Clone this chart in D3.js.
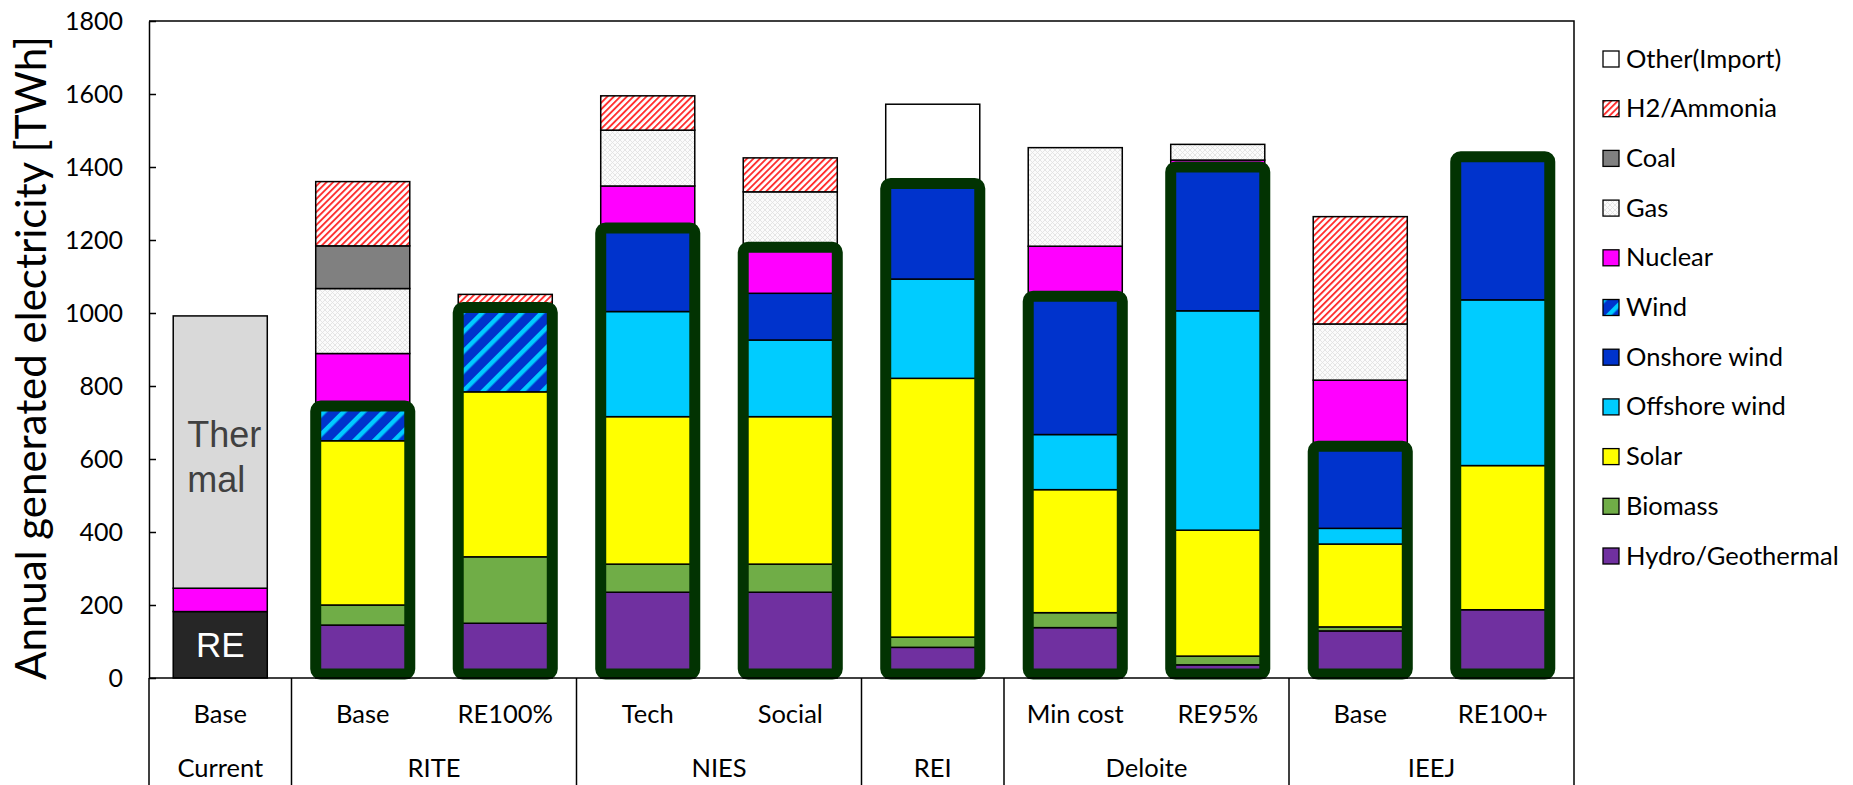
<!DOCTYPE html>
<html><head><meta charset="utf-8">
<script src="https://cdn.jsdelivr.net/npm/d3@7"></script>
<style>body{margin:0;background:#fff}</style>
</head><body><svg id="chart" width="1853" height="785"></svg>
<script>
// ---- data (TWh) ----
const scenarios = ["Base","Base","RE100%","Tech","Social","","Min cost","RE95%","Base","RE100+"];
const groupNames = ["Current","RITE","NIES","REI","Deloite","IEEJ"];
const groupSizes = [1,2,2,1,2,2];
const yTicks = [0,200,400,600,800,1000,1200,1400,1600,1800];

const reCurrent = [182,0,0,0,0,0,0,0,0,0];
const hydro     = [0,145,150,235,235,84,138,36,129,187];
const biomass   = [0,55,182,77,77,28,41,24,11,0];
const solar     = [0,450,452,404,404,709,337,345,227,395];
const offshore  = [0,0,0,288,210,272,151,601,43,454];
const onshore   = [0,0,0,229,128,262,379,394,225,392];
const wind      = [0,95,231,0,0,0,0,0,0,0];
const nuclear   = [64,144,0,115,126,0,137,19,181,0];
const thermal   = [746,0,0,0,0,0,0,0,0,0];
const gas       = [0,178,0,153,152,0,270,43,154,0];
const coal      = [0,117,0,0,0,0,0,0,0,0];
const h2        = [0,176,36,94,93,0,0,0,294,0];
const other     = [0,0,0,0,0,217,0,0,0,0];

// topmost series enclosed by the highlight box (null = none)
const boxTop = [null,"wind","wind","onshore","nuclear","onshore","onshore","onshore","onshore","onshore"];

const seriesKeys = ["re","hydro","biomass","solar","offshore","onshore","wind","nuclear","thermal","gas","coal","h2","other"];
const seriesData = {re:reCurrent,hydro,biomass,solar,offshore,onshore,wind,nuclear,thermal,gas,coal,h2,other};
const fills = {re:"#262626",hydro:"#7030a0",biomass:"#70ad47",solar:"#ffff00",offshore:"#00ccff",
  onshore:"#0033cc",wind:"url(#pWind)",nuclear:"#ff00ff",thermal:"#d9d9d9",gas:"url(#pGas)",
  coal:"#808080",h2:"url(#pH2)",other:"#ffffff"};
const legendKeys = ["other","h2","coal","gas","nuclear","wind","onshore","offshore","solar","biomass","hydro"];
const legendLabels = ["Other(Import)","H2/Ammonia","Coal","Gas","Nuclear","Wind","Onshore wind","Offshore wind","Solar","Biomass","Hydro/Geothermal"];

// ---- chart ----
const FONT = "Lato, 'Liberation Sans', sans-serif";
const svg = d3.select("#chart");
const defs = svg.append("defs");
const pH2 = defs.append("pattern").attr("id","pH2").attr("patternUnits","userSpaceOnUse")
  .attr("width",4.6).attr("height",4.6).attr("patternTransform","rotate(45)");
pH2.append("rect").attr("width",4.6).attr("height",4.6).attr("fill","#fff");
pH2.append("rect").attr("x",0).attr("width",1.9).attr("height",4.6).attr("fill","#ff3030");
const pGas = defs.append("pattern").attr("id","pGas").attr("patternUnits","userSpaceOnUse")
  .attr("width",5).attr("height",5);
pGas.append("rect").attr("width",5).attr("height",5).attr("fill","#fbfbfb");
pGas.append("path").attr("d","M0,0L5,5M5,0L0,5").attr("stroke","#e2e2e2").attr("stroke-width",0.9);
const pWind = defs.append("pattern").attr("id","pWind").attr("patternUnits","userSpaceOnUse")
  .attr("width",14).attr("height",14).attr("patternTransform","rotate(45)");
pWind.append("rect").attr("width",14).attr("height",14).attr("fill","#0033cc");
pWind.append("rect").attr("width",4.5).attr("height",14).attr("fill","#00ccff");

const x = d3.scaleBand().domain(d3.range(scenarios.length)).range([149,1574])
  .paddingInner(0.34).paddingOuter(0.17);
const y = d3.scaleLinear().domain([0,1800]).range([678,21]);

const rows = scenarios.map((s,i)=>{const r={i}; seriesKeys.forEach(k=>r[k]=seriesData[k][i]); return r;});
const stack = d3.stack().keys(seriesKeys)(rows);

// bars
const g = svg.append("g");
stack.forEach(layer=>{
  g.selectAll(null).data(layer.filter(d=>d[1]-d[0]>0)).join("rect")
    .attr("x",d=>x(d.data.i)).attr("width",x.bandwidth())
    .attr("y",d=>y(d[1])).attr("height",d=>y(d[0])-y(d[1]))
    .attr("fill",fills[layer.key]).attr("stroke","#000").attr("stroke-width",1.5);
});

// highlight boxes
const topOf = {}; stack.forEach(l=>topOf[l.key]=l);
boxTop.forEach((k,i)=>{
  if(!k) return;
  const t = topOf[k][i][1];
  svg.append("rect").attr("x",x(i)).attr("width",x.bandwidth())
    .attr("y",y(t)).attr("height",y(0)-4-y(t))
    .attr("rx",5).attr("fill","none").attr("stroke","#023302").attr("stroke-width",11);
});

// labels inside Current bar
const thMid = (y(topOf.thermal[0][0])+y(topOf.thermal[0][1]))/2;
svg.append("text").attr("x",x(0)+14).attr("y",thMid-5).text("Ther")
  .attr("font-family","'Liberation Sans', Arial, sans-serif").attr("font-size",36).attr("fill","#404040");
svg.append("text").attr("x",x(0)+14).attr("y",thMid+40).text("mal")
  .attr("font-family","'Liberation Sans', Arial, sans-serif").attr("font-size",36).attr("fill","#404040");
const reMid = (y(topOf.re[0][0])+y(topOf.re[0][1]))/2;
svg.append("text").attr("x",x(0)+x.bandwidth()/2).attr("y",reMid+12).attr("text-anchor","middle").text("RE")
  .attr("font-family","'Liberation Sans', Arial, sans-serif").attr("font-size",35).attr("fill","#fff");

// frame
const L=149,R=1574,T=21,B=678;
svg.append("path").attr("d",`M${L},${T}H${R}V${B}`).attr("fill","none").attr("stroke","#000").attr("stroke-width",1.5);
svg.append("line").attr("x1",L).attr("x2",R).attr("y1",B).attr("y2",B).attr("stroke","#000").attr("stroke-width",1.5);

// y axis
const yAxis = d3.axisLeft(y).tickValues(yTicks).tickFormat(d3.format("d"))
  .tickSizeInner(-7).tickSizeOuter(0).tickPadding(26);
const ya = svg.append("g").attr("transform",`translate(${L},0)`).call(yAxis);
ya.select(".domain").attr("stroke","#000").attr("stroke-width",1.5);
ya.selectAll(".tick line").attr("stroke","#000").attr("stroke-width",1.5);
ya.selectAll("text").attr("font-family",FONT).attr("font-size",25).attr("fill","#000");

svg.append("text").attr("transform","translate(46,358) rotate(-90)").attr("text-anchor","middle")
  .attr("font-family",FONT).attr("font-size",42).attr("fill","#000")
  .text("Annual generated electricity [TWh]");

// category axis (two rows)
svg.append("line").attr("x1",L).attr("x2",L).attr("y1",B).attr("y2",785).attr("stroke","#000").attr("stroke-width",1.5);
let start=0;
groupNames.forEach((gname,gi)=>{
  const n=groupSizes[gi];
  const x0 = x(start) - x.step()*x.paddingInner()/2;
  const x1 = x(start+n-1) + x.bandwidth() + x.step()*x.paddingInner()/2;
  svg.append("line").attr("x1",x1).attr("x2",x1).attr("y1",B).attr("y2",785).attr("stroke","#000").attr("stroke-width",1.5);
  svg.append("text").attr("x",(x0+x1)/2).attr("y",777).attr("text-anchor","middle")
    .attr("font-family",FONT).attr("font-size",25.5).text(gname);
  start+=n;
});
svg.selectAll(null).data(scenarios).join("text")
  .attr("x",(d,i)=>x(i)+x.bandwidth()/2).attr("y",723).attr("text-anchor","middle")
  .attr("font-family",FONT).attr("font-size",25.5).text(d=>d);

// legend
const lg = svg.append("g");
legendKeys.forEach((k,i)=>{
  const cy = 59 + i*49.7;
  lg.append("rect").attr("x",1603).attr("y",cy-8).attr("width",16).attr("height",16)
    .attr("fill",fills[k]).attr("stroke","#000").attr("stroke-width",1.3);
  lg.append("text").attr("x",1626).attr("y",cy+8.5).attr("font-family",FONT).attr("font-size",25.5)
    .text(legendLabels[i]);
});
</script></body></html>
